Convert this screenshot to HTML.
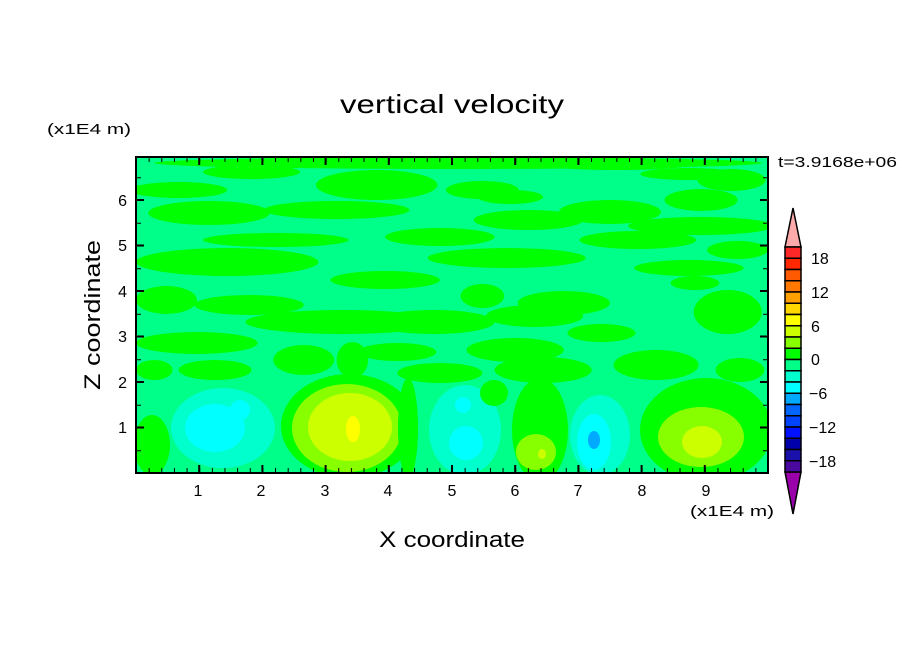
<!DOCTYPE html>
<html><head><meta charset="utf-8"><style>
html,body{margin:0;padding:0;background:#fff;}
svg{display:block;}
text{font-family:"Liberation Sans",sans-serif;fill:#000;}
</style></head><body>
<svg width="904" height="654" viewBox="0 0 904 654" xmlns="http://www.w3.org/2000/svg">
<defs>
<clipPath id="c"><rect x="136" y="157" width="632" height="316"/></clipPath>
<pattern id="px" x="136" y="0" width="12.64" height="10" patternUnits="userSpaceOnUse"><rect x="-1" y="0" width="2" height="10" fill="#000"/></pattern>
<pattern id="py" x="0" y="473" width="10" height="22.75" patternUnits="userSpaceOnUse"><rect x="0" y="-1" width="10" height="2" fill="#000"/></pattern>
</defs>
<rect width="904" height="654" fill="#fff"/>
<g clip-path="url(#c)">
<rect x="136" y="157" width="632" height="316" fill="#00ff88"/>
<g fill="#00ff00" transform="translate(130,0) scale(1.215,1) translate(-130,0)">
<ellipse cx="400" cy="163" rx="250" ry="6"/>
<ellipse cx="170" cy="190" rx="40" ry="8"/>
<ellipse cx="230" cy="172" rx="40" ry="7"/>
<ellipse cx="333" cy="185" rx="50" ry="15"/>
<ellipse cx="420" cy="190" rx="30" ry="9"/>
<ellipse cx="530" cy="165" rx="60" ry="5"/>
<ellipse cx="590" cy="174" rx="40" ry="6"/>
<ellipse cx="210" cy="262" rx="75" ry="14"/>
<ellipse cx="195" cy="213" rx="50" ry="12"/>
<ellipse cx="300" cy="210" rx="60" ry="9"/>
<ellipse cx="250" cy="240" rx="60" ry="7"/>
<ellipse cx="385" cy="237" rx="45" ry="9"/>
<ellipse cx="440" cy="258" rx="65" ry="10"/>
<ellipse cx="458" cy="220" rx="45" ry="10"/>
<ellipse cx="443" cy="197" rx="27" ry="7"/>
<ellipse cx="525" cy="212" rx="42" ry="12"/>
<ellipse cx="548" cy="240" rx="48" ry="9"/>
<ellipse cx="600" cy="226" rx="60" ry="9"/>
<ellipse cx="625" cy="180" rx="28" ry="11"/>
<ellipse cx="600" cy="200" rx="30" ry="11"/>
<ellipse cx="630" cy="250" rx="25" ry="9"/>
<ellipse cx="590" cy="268" rx="45" ry="8"/>
<ellipse cx="595" cy="283" rx="20" ry="7"/>
<ellipse cx="487" cy="303" rx="38" ry="12"/>
<ellipse cx="463" cy="316" rx="40" ry="11"/>
<ellipse cx="420" cy="296" rx="18" ry="12"/>
<ellipse cx="447" cy="350" rx="40" ry="12"/>
<ellipse cx="518" cy="333" rx="28" ry="9"/>
<ellipse cx="622" cy="312" rx="28" ry="22"/>
<ellipse cx="563" cy="365" rx="35" ry="15"/>
<ellipse cx="470" cy="370" rx="40" ry="13"/>
<ellipse cx="632" cy="370" rx="20" ry="12"/>
<ellipse cx="160" cy="300" rx="25" ry="14"/>
<ellipse cx="228" cy="305" rx="45" ry="10"/>
<ellipse cx="305" cy="322" rx="80" ry="12"/>
<ellipse cx="340" cy="280" rx="45" ry="9"/>
<ellipse cx="185" cy="343" rx="50" ry="11"/>
<ellipse cx="150" cy="370" rx="15" ry="10"/>
<ellipse cx="200" cy="370" rx="30" ry="10"/>
<ellipse cx="273" cy="360" rx="25" ry="15"/>
<ellipse cx="313" cy="360" rx="13" ry="18"/>
<ellipse cx="350" cy="352" rx="32" ry="9"/>
<ellipse cx="380" cy="322" rx="50" ry="12"/>
<ellipse cx="385" cy="373" rx="35" ry="10"/>
</g>
<g>
<ellipse cx="152" cy="445" rx="18" ry="30" fill="#00ff00"/>
<ellipse cx="223" cy="428" rx="52" ry="40" fill="#00ffcc"/>
<ellipse cx="215" cy="428" rx="30" ry="24" fill="#00ffff"/>
<ellipse cx="240" cy="410" rx="10" ry="10" fill="#00ffff"/>
<ellipse cx="349" cy="426" rx="68" ry="52" fill="#00ff00"/>
<ellipse cx="347" cy="428" rx="55" ry="44" fill="#88ff00"/>
<ellipse cx="350" cy="427" rx="42" ry="34" fill="#ccff00"/>
<ellipse cx="353" cy="429" rx="7" ry="13" fill="#ffff00"/>
<ellipse cx="408" cy="428" rx="10" ry="50" fill="#00ff00"/>
<ellipse cx="465" cy="430" rx="36" ry="45" fill="#00ffcc"/>
<ellipse cx="466" cy="443" rx="17" ry="17" fill="#00ffff"/>
<ellipse cx="463" cy="405" rx="8" ry="8" fill="#00ffff"/>
<ellipse cx="494" cy="393" rx="14" ry="13" fill="#00ff00"/>
<ellipse cx="540" cy="430" rx="28" ry="52" fill="#00ff00"/>
<ellipse cx="536" cy="452" rx="20" ry="18" fill="#88ff00"/>
<ellipse cx="542" cy="454" rx="4" ry="5" fill="#ccff00"/>
<ellipse cx="600" cy="435" rx="30" ry="40" fill="#00ffcc"/>
<ellipse cx="594" cy="442" rx="17" ry="28" fill="#00ffff"/>
<ellipse cx="594" cy="440" rx="6" ry="9" fill="#00aaff"/>
<ellipse cx="706" cy="430" rx="66" ry="52" fill="#00ff00"/>
<ellipse cx="701" cy="437" rx="43" ry="30" fill="#88ff00"/>
<ellipse cx="702" cy="442" rx="20" ry="16" fill="#ccff00"/>
</g>
</g>
<rect x="136" y="157" width="632" height="316" fill="none" stroke="#000" stroke-width="2"/>
<rect x="136" y="158" width="632" height="4" fill="url(#px)"/>
<rect x="136" y="468" width="632" height="4" fill="url(#px)"/>
<rect x="137" y="157" width="4" height="316" fill="url(#py)"/>
<rect x="763" y="157" width="4" height="316" fill="url(#py)"/>
<path stroke="#000" stroke-width="2" d="M199.2 473v-8M262.4 473v-8M325.6 473v-8M388.8 473v-8M452 473v-8M515.2 473v-8M578.4 473v-8M641.6 473v-8M704.8 473v-8M199.2 157v8M262.4 157v8M325.6 157v8M388.8 157v8M452 157v8M515.2 157v8M578.4 157v8M641.6 157v8M704.8 157v8M136 427.5h8M136 382h8M136 336.5h8M136 291h8M136 245.5h8M136 200h8M768 427.5h-8M768 382h-8M768 336.5h-8M768 291h-8M768 245.5h-8M768 200h-8"/>
<g font-size="16" text-anchor="middle">
<text x="198" y="496">1</text><text x="261" y="496">2</text><text x="325" y="496">3</text><text x="388" y="496">4</text><text x="452" y="496">5</text><text x="515" y="496">6</text><text x="578" y="496">7</text><text x="642" y="496">8</text><text x="706" y="496">9</text>
</g>
<g font-size="16" text-anchor="end">
<text x="127" y="433">1</text><text x="127" y="388">2</text><text x="127" y="342">3</text><text x="127" y="297">4</text><text x="127" y="251">5</text><text x="127" y="206">6</text>
</g>
<text x="340" y="113" font-size="26" textLength="224" lengthAdjust="spacingAndGlyphs">vertical velocity</text>
<text x="47" y="134" font-size="15" textLength="84" lengthAdjust="spacingAndGlyphs">(x1E4 m)</text>
<text x="690" y="516" font-size="15" textLength="84" lengthAdjust="spacingAndGlyphs">(x1E4 m)</text>
<text x="379" y="547" font-size="22" textLength="146" lengthAdjust="spacingAndGlyphs">X coordinate</text>
<text transform="translate(100,390) rotate(-90)" font-size="22" textLength="150" lengthAdjust="spacingAndGlyphs">Z coordinate</text>
<text x="778" y="167" font-size="15" textLength="119" lengthAdjust="spacingAndGlyphs">t=3.9168e+06</text>
<g stroke="#000" stroke-width="1.5">
<polygon points="793,208 785,247 801,247" fill="#ffaaaa"/>
<polygon points="785,472 801,472 793,514" fill="#9900aa"/>
<rect x="785" y="247" width="16" height="11.25" fill="#ff2828"/>
<rect x="785" y="258.25" width="16" height="11.25" fill="#ff2800"/>
<rect x="785" y="269.5" width="16" height="11.25" fill="#ff5a00"/>
<rect x="785" y="280.75" width="16" height="11.25" fill="#ff7800"/>
<rect x="785" y="292" width="16" height="11.25" fill="#ffa000"/>
<rect x="785" y="303.25" width="16" height="11.25" fill="#ffd700"/>
<rect x="785" y="314.5" width="16" height="11.25" fill="#ffff00"/>
<rect x="785" y="325.75" width="16" height="11.25" fill="#ccff00"/>
<rect x="785" y="337" width="16" height="11.25" fill="#88ff00"/>
<rect x="785" y="348.25" width="16" height="11.25" fill="#00ff00"/>
<rect x="785" y="359.5" width="16" height="11.25" fill="#00ff88"/>
<rect x="785" y="370.75" width="16" height="11.25" fill="#00ffcc"/>
<rect x="785" y="382" width="16" height="11.25" fill="#00ffff"/>
<rect x="785" y="393.25" width="16" height="11.25" fill="#00aaff"/>
<rect x="785" y="404.5" width="16" height="11.25" fill="#0066ff"/>
<rect x="785" y="415.75" width="16" height="11.25" fill="#0044ff"/>
<rect x="785" y="427" width="16" height="11.25" fill="#0011ff"/>
<rect x="785" y="438.25" width="16" height="11.25" fill="#0000aa"/>
<rect x="785" y="449.5" width="16" height="11.25" fill="#1a10aa"/>
<rect x="785" y="460.75" width="16" height="11.25" fill="#4a0aa0"/>
</g>
<g font-size="16">
<text x="811" y="264">18</text><text x="811" y="298">12</text><text x="811" y="332">6</text><text x="811" y="365">0</text><text x="809" y="399">−6</text><text x="809" y="433">−12</text><text x="809" y="467">−18</text>
</g>
</svg>
</body></html>
